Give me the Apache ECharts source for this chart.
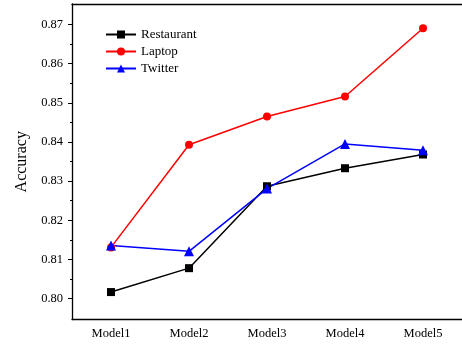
<!DOCTYPE html>
<html>
<head>
<meta charset="utf-8">
<script src="https://cdn.jsdelivr.net/npm/echarts@6/dist/echarts.min.js"></script>
<style>
  html, body { margin: 0; padding: 0; background: #fff; }
  #chart { width: 462px; height: 344px; }
</style>
</head>
<body>
<div id="chart"></div>
<script>
// Accuracy of each model on three datasets
const categories = ['Model1', 'Model2', 'Model3', 'Model4', 'Model5'];
const restaurant = [0.8017, 0.8078, 0.8287, 0.8333, 0.8368];
const laptop     = [0.8131, 0.8393, 0.8465, 0.8516, 0.8690];
const twitter    = [0.8136, 0.8121, 0.8281, 0.8395, 0.8379];
const majorTicks = [0.80, 0.81, 0.82, 0.83, 0.84, 0.85, 0.86, 0.87];
const minorTicks = [0.805, 0.815, 0.825, 0.835, 0.845, 0.855, 0.865];

const FONT = '"Liberation Serif", "Times New Roman", serif';
const yMin = 0.7947, yMax = 0.8752;

function lineSeries(name, data, color, symbol, size) {
  return {
    name: name,
    type: 'line',
    data: data,
    symbol: symbol,
    symbolSize: size,
    showSymbol: true,
    lineStyle: { color: color, width: 1.5 },
    itemStyle: { color: color, borderWidth: 0 },
    emphasis: { disabled: true },
    animation: false
  };
}

const chart = echarts.init(document.getElementById('chart'), null, { renderer: 'canvas' });
chart.setOption({
  animation: false,
  backgroundColor: '#fff',
  grid: { left: 72, top: 4, width: 391.5, bottom: 24.5, containLabel: false },
  legend: {
    orient: 'vertical',
    left: 105,
    top: 28,
    padding: 0,
    itemWidth: 30,
    itemHeight: 10,
    itemGap: 4,
    textStyle: { fontFamily: FONT, fontSize: 13, color: '#000' },
    data: ['Restaurant', 'Laptop', 'Twitter']
  },
  xAxis: [{
    type: 'category',
    data: categories,
    boundaryGap: true,
    axisLine: { lineStyle: { color: '#000', width: 1.3 } },
    axisTick: { inside: true, alignWithLabel: true, length: 5, lineStyle: { color: '#000', width: 1 } },
    axisLabel: { fontFamily: FONT, fontSize: 12.5, color: '#000', margin: 8 },
    splitLine: { show: false }
  }, {
    type: 'category',
    data: categories,
    position: 'top',
    axisLine: { lineStyle: { color: '#000', width: 1.3 } },
    axisTick: { show: false },
    axisLabel: { show: false },
    splitLine: { show: false }
  }],
  yAxis: [{
    type: 'value',
    min: yMin,
    max: yMax,
    name: 'Accuracy',
    nameLocation: 'middle',
    nameGap: 40,
    nameTextStyle: { fontFamily: FONT, fontSize: 16, color: '#000' },
    axisLine: { show: true, lineStyle: { color: '#000', width: 1.3 } },
    axisTick: { show: true, length: 4, customValues: majorTicks, lineStyle: { color: '#000', width: 1 } },
    axisLabel: {
      fontFamily: FONT, fontSize: 12.5, color: '#000', margin: 9,
      customValues: majorTicks,
      formatter: v => v.toFixed(2)
    },
    splitLine: { show: false }
  }, {
    type: 'value',
    min: yMin,
    max: yMax,
    position: 'left',
    axisLine: { show: false },
    axisTick: { show: true, length: 2, customValues: minorTicks, lineStyle: { color: '#000', width: 1 } },
    axisLabel: { show: false, customValues: minorTicks },
    splitLine: { show: false }
  }],
  series: [
    lineSeries('Restaurant', restaurant, '#000000', 'rect', 8),
    lineSeries('Laptop', laptop, '#ff0000', 'circle', 8),
    lineSeries('Twitter', twitter, '#0000ff', 'triangle', 10)
  ]
});
</script>
</body>
</html>
